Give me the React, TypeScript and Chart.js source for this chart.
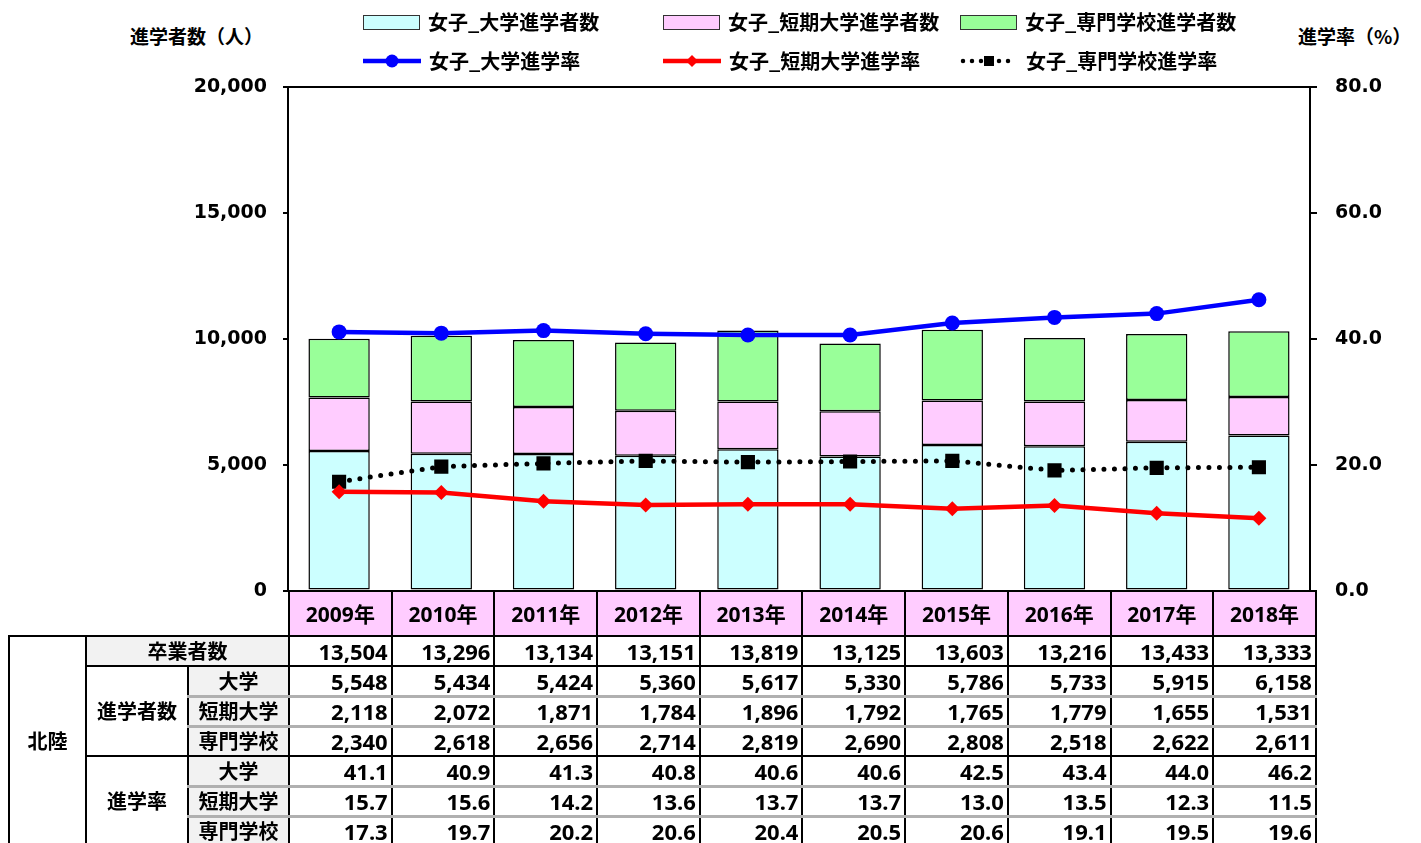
import React, { useEffect, useRef } from 'react';
import { Chart, registerables } from 'chart.js';

Chart.register(...registerables);

// ---- data ----
const years = ['2009年', '2010年', '2011年', '2012年', '2013年', '2014年', '2015年', '2016年', '2017年', '2018年'];
const graduates = [13504, 13296, 13134, 13151, 13819, 13125, 13603, 13216, 13433, 13333];
const univCount = [5548, 5434, 5424, 5360, 5617, 5330, 5786, 5733, 5915, 6158];
const juniorCount = [2118, 2072, 1871, 1784, 1896, 1792, 1765, 1779, 1655, 1531];
const vocCount = [2340, 2618, 2656, 2714, 2819, 2690, 2808, 2518, 2622, 2611];
const univRate = [41.1, 40.9, 41.3, 40.8, 40.6, 40.6, 42.5, 43.4, 44.0, 46.2];
const juniorRate = [15.7, 15.6, 14.2, 13.6, 13.7, 13.7, 13.0, 13.5, 12.3, 11.5];
const vocRate = [17.3, 19.7, 20.2, 20.6, 20.4, 20.5, 20.6, 19.1, 19.5, 19.6];

const countTicks = [0, 5000, 10000, 15000, 20000];
const rateTicks = [0, 20, 40, 60, 80];

const names = {
  univCount: '女子_大学進学者数',
  juniorCount: '女子_短期大学進学者数',
  vocCount: '女子_専門学校進学者数',
  univRate: '女子_大学進学率',
  juniorRate: '女子_短期大学進学率',
  vocRate: '女子_専門学校進学率',
};

const COL_CYAN = '#CCFFFF';
const COL_PINK = '#FFCCFF';
const COL_GREEN = '#99FF99';
const COL_BLUE = '#0000FF';
const COL_RED = '#FF0000';

const JP = '"Noto Sans CJK JP", "Noto Sans", sans-serif';
const NUM = '"Noto Sans", "Noto Sans CJK JP", sans-serif';

const framePlugin = {
  id: 'frameTop',
  afterDatasetsDraw(chart: any) {
    const { ctx, chartArea: a } = chart;
    ctx.save();
    ctx.strokeStyle = '#000';
    ctx.lineWidth = 2;
    ctx.beginPath();
    ctx.moveTo(a.left - 1, a.top);
    ctx.lineTo(a.right + 1, a.top);
    ctx.stroke();
    ctx.restore();
  },
};

function ChartCanvas() {
  const ref = useRef<HTMLCanvasElement | null>(null);
  useEffect(() => {
    if (!ref.current) return;
    const tickFont = { family: '"DejaVu Sans", Verdana, sans-serif', size: 19, weight: 'bold' as const };
    const chart = new Chart(ref.current, {
      type: 'bar',
      data: {
        labels: years,
        datasets: [
          {
            type: 'line', label: names.univRate, data: univRate, yAxisID: 'y1',
            borderColor: COL_BLUE, backgroundColor: COL_BLUE, borderWidth: 4.5,
            pointStyle: 'circle', pointRadius: 7.5, pointBorderWidth: 0, order: 0,
          } as any,
          {
            type: 'line', label: names.juniorRate, data: juniorRate, yAxisID: 'y1',
            borderColor: COL_RED, backgroundColor: COL_RED, borderWidth: 4.5,
            pointStyle: 'rectRot', pointRadius: 7.5, pointBorderWidth: 0, order: 0,
          } as any,
          {
            type: 'line', label: names.vocRate, data: vocRate, yAxisID: 'y1',
            borderColor: '#000', backgroundColor: '#000', borderWidth: 5,
            borderDash: [0, 10.5], borderCapStyle: 'round',
            pointStyle: 'rect', pointRadius: 10, pointBorderWidth: 0, order: 0,
          } as any,
          {
            type: 'bar', label: names.univCount, data: univCount, yAxisID: 'y',
            backgroundColor: COL_CYAN, borderColor: '#000', borderWidth: 1.5, borderSkipped: false,
            barPercentage: 0.6, categoryPercentage: 1, order: 1,
          } as any,
          {
            type: 'bar', label: names.juniorCount, data: juniorCount, yAxisID: 'y',
            backgroundColor: COL_PINK, borderColor: '#000', borderWidth: 1.5, borderSkipped: false,
            barPercentage: 0.6, categoryPercentage: 1, order: 1,
          } as any,
          {
            type: 'bar', label: names.vocCount, data: vocCount, yAxisID: 'y',
            backgroundColor: COL_GREEN, borderColor: '#000', borderWidth: 1.5, borderSkipped: false,
            barPercentage: 0.6, categoryPercentage: 1, order: 1,
          } as any,
        ],
      },
      options: {
        responsive: false,
        animation: false,
        events: [],
        layout: { padding: { top: 79, left: 0, right: 0, bottom: 0 } },
        plugins: { legend: { display: false }, tooltip: { enabled: false }, title: { display: false } },
        scales: {
          x: {
            stacked: true,
            offset: true,
            grid: { display: false },
            border: { display: true, color: '#000', width: 2 },
            ticks: { display: false },
            afterFit(s: any) { s.height = 9; },
          },
          y: {
            position: 'left',
            stacked: true,
            min: countTicks[0],
            max: countTicks[countTicks.length - 1],
            afterBuildTicks(s: any) { s.ticks = countTicks.map((v) => ({ value: v })); },
            ticks: {
              color: '#000', font: tickFont, padding: 16,
              callback: (v: any) => Number(v).toLocaleString('en-US'),
            },
            grid: { drawOnChartArea: false, drawTicks: true, tickLength: 5, color: '#000', lineWidth: 2 },
            border: { display: true, color: '#000', width: 2 },
            afterFit(s: any) { s.width = 280; },
          },
          y1: {
            position: 'right',
            stacked: false,
            min: rateTicks[0],
            max: rateTicks[rateTicks.length - 1],
            afterBuildTicks(s: any) { s.ticks = rateTicks.map((v) => ({ value: v })); },
            ticks: {
              color: '#000', font: tickFont, padding: 18,
              callback: (v: any) => Number(v).toFixed(1),
            },
            grid: { drawOnChartArea: false, drawTicks: true, tickLength: 7, color: '#000', lineWidth: 2 },
            border: { display: true, color: '#000', width: 2 },
            afterFit(s: any) { s.width = 103; },
          },
        },
      } as any,
      plugins: [framePlugin],
    });
    return () => chart.destroy();
  }, []);
  return <canvas ref={ref} width={1405} height={612} style={{ position: 'absolute', left: 0, top: 0 }} />;
}

function Swatch({ kind, color }: { kind: string; color: string }) {
  if (kind === 'box') {
    return (
      <span style={{ display: 'inline-block', width: 57, height: 15, background: color, border: '1px solid #333', boxSizing: 'border-box' }} />
    );
  }
  return (
    <svg width={58} height={20} style={{ display: 'block' }}>
      {kind === 'dot' ? (
        <line x1={3} y1={10} x2={56} y2={10} stroke="#000" strokeWidth={4.5} strokeDasharray="0 9" strokeLinecap="round" />
      ) : (
        <line x1={0} y1={10} x2={58} y2={10} stroke={color} strokeWidth={4.5} />
      )}
      {kind === 'circle' && <circle cx={29} cy={10} r={6.5} fill={color} />}
      {kind === 'diamond' && <polygon points="29,4 35,10 29,16 23,10" fill={color} />}
      {kind === 'dot' && <rect x={24} y={5} width={10} height={10} fill="#000" />}
    </svg>
  );
}

const legendItems = [
  { name: names.univCount, kind: 'box', color: COL_CYAN, x: 355, row: 0 },
  { name: names.juniorCount, kind: 'box', color: COL_PINK, x: 655, row: 0 },
  { name: names.vocCount, kind: 'box', color: COL_GREEN, x: 952, row: 0 },
  { name: names.univRate, kind: 'circle', color: COL_BLUE, x: 355, row: 1 },
  { name: names.juniorRate, kind: 'diamond', color: COL_RED, x: 655, row: 1 },
  { name: names.vocRate, kind: 'dot', color: '#000', x: 952, row: 1 },
];

function Legend() {
  return (
    <>
      {legendItems.map((it) => (
        <div
          key={it.name}
          style={{
            position: 'absolute', left: it.x, top: (it.row === 0 ? 14 : 53) - 13, height: 26,
            display: 'flex', alignItems: 'center', gap: 8, whiteSpace: 'nowrap',
            font: `bold 20px ${JP}`, color: '#000',
          }}
        >
          <Swatch kind={it.kind} color={it.color} />
          <span style={{ lineHeight: '26px' }}>{it.name}</span>
        </div>
      ))}
    </>
  );
}

const fmtCount = (v: number) => v.toLocaleString('en-US');
const fmtRate = (v: number) => v.toFixed(1);

const BLACK = '2px solid #000';
const GRAY = '3px solid #B0B0B0';

function DataTable() {
  const numCell = (top: string, bottom: string): React.CSSProperties => ({
    borderLeft: BLACK, borderRight: BLACK, borderTop: top, borderBottom: bottom,
    textAlign: 'right', paddingRight: 3, paddingLeft: 0, paddingTop: 0, paddingBottom: 0,
    font: `bold 22px ${NUM}`, lineHeight: '22px', background: '#fff', whiteSpace: 'nowrap', overflow: 'hidden',
  });
  const labelCell = (top: string, bottom: string, bg: string): React.CSSProperties => ({
    borderLeft: BLACK, borderRight: BLACK, borderTop: top, borderBottom: bottom,
    textAlign: 'center', padding: 0, font: `bold 20px ${JP}`, lineHeight: '22px', background: bg, whiteSpace: 'nowrap',
  });
  const rows = [
    { group: '進学者数', sub: '大学', vals: univCount.map(fmtCount), top: BLACK, bottom: GRAY },
    { group: '', sub: '短期大学', vals: juniorCount.map(fmtCount), top: GRAY, bottom: GRAY },
    { group: '', sub: '専門学校', vals: vocCount.map(fmtCount), top: GRAY, bottom: BLACK },
    { group: '進学率', sub: '大学', vals: univRate.map(fmtRate), top: BLACK, bottom: GRAY },
    { group: '', sub: '短期大学', vals: juniorRate.map(fmtRate), top: GRAY, bottom: GRAY },
    { group: '', sub: '専門学校', vals: vocRate.map(fmtRate), top: GRAY, bottom: BLACK },
  ];
  return (
    <table
      style={{
        position: 'absolute', left: 0, top: 582, borderCollapse: 'collapse', tableLayout: 'fixed',
        width: 1307, color: '#000',
      }}
    >
      <colgroup>
        <col style={{ width: 77 }} />
        <col style={{ width: 102 }} />
        <col style={{ width: 101 }} />
        {years.map((y) => (
          <col key={y} style={{ width: 102.7 }} />
        ))}
      </colgroup>
      <tbody>
        <tr style={{ height: 45 }}>
          <td colSpan={3} style={{ border: 'none', padding: 0 }} />
          {years.map((y) => (
            <td
              key={y}
              style={{
                background: COL_PINK, border: BLACK, textAlign: 'center', padding: 0,
                font: `bold 21px ${NUM}`, lineHeight: '22px',
              }}
            >
              {y}
            </td>
          ))}
        </tr>
        <tr style={{ height: 30 }}>
          <td rowSpan={7} style={{ ...labelCell(BLACK, BLACK, '#fff') }}>北陸</td>
          <td colSpan={2} style={labelCell(BLACK, BLACK, '#F2F2F2')}>卒業者数</td>
          {graduates.map((v, i) => (
            <td key={i} style={numCell(BLACK, BLACK)}>{fmtCount(v)}</td>
          ))}
        </tr>
        {rows.map((r, ri) => (
          <tr key={ri} style={{ height: 30 }}>
            {r.group && (
              <td rowSpan={3} style={labelCell(BLACK, BLACK, '#fff')}>{r.group}</td>
            )}
            <td style={labelCell(r.top, r.bottom, '#F2F2F2')}>{r.sub}</td>
            {r.vals.map((v, i) => (
              <td key={i} style={numCell(r.top, r.bottom)}>{v}</td>
            ))}
          </tr>
        ))}
      </tbody>
    </table>
  );
}

export default function App() {
  return (
    <div style={{ position: 'relative', width: 1405, height: 835, overflow: 'hidden', fontFamily: JP }}>
      <style>{'html,body{overflow:hidden;}'}</style>
      <div
        style={{
          position: 'absolute', left: 122, top: 14, lineHeight: '26px', font: `bold 19px ${JP}`,
          whiteSpace: 'nowrap',
        }}
      >
        進学者数（人）
      </div>
      <div
        style={{
          position: 'absolute', left: 1290, top: 14, lineHeight: '26px', font: `bold 19px ${JP}`,
          whiteSpace: 'nowrap',
        }}
      >
        進学率（%）
      </div>
      <ChartCanvas />
      <Legend />
      <DataTable />
    </div>
  );
}
